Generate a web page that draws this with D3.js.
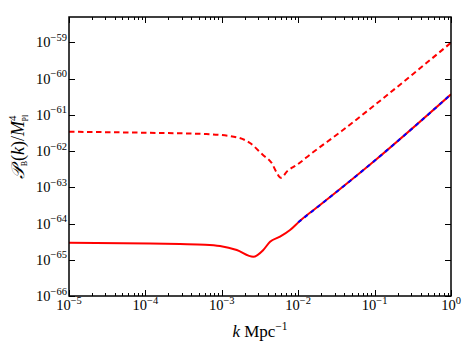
<!DOCTYPE html>
<html><head><meta charset="utf-8">
<script src="https://cdn.jsdelivr.net/npm/d3@7"></script>
<style>body{margin:0;background:#fff;} svg{display:block;}</style>
</head><body>
<svg id="c" width="463" height="348"></svg>
<script>
// k values (Mpc^-1) and power values for each curve
const dashedK = [1e-5, 1e-4, 6.03e-4, 1.28e-3, 2.34e-3, 3.46e-3, 4.50e-3, 5.24e-3, 5.90e-3, 7.29e-3, 9.55e-3, 1.50e-2, 3.71e-2, 1e-1, 1];
const dashedP = [3.42e-62, 3.2e-62, 2.95e-62, 2.6e-62, 1.67e-62, 7.78e-63, 4.68e-63, 2.52e-63, 1.84e-63, 2.86e-63, 4.12e-63, 8.67e-63, 3.57e-62, 1.85e-61, 9.77e-60];
const solidK = [1e-5, 1.15e-4, 2.84e-4, 6.03e-4, 9.46e-4, 1.57e-3, 2.58e-3, 3.49e-3, 4.28e-3, 5.78e-3, 7.82e-3, 1.06e-2, 1.93e-2, 1e-1, 1];
const solidP = [2.96e-65, 2.82e-65, 2.72e-65, 2.61e-65, 2.4e-65, 1.86e-65, 1.21e-65, 1.86e-65, 3.15e-65, 4.33e-65, 6.62e-65, 1.2e-64, 3.24e-64, 5.4e-63, 3.68e-61];
const blueK = [1e-2, 1e-1, 1];
const blueP = [1.08e-64, 5.4e-63, 3.68e-61];
const xTicks = [1e-5, 1e-4, 1e-3, 1e-2, 1e-1, 1];
const xTickExp = ["−5", "−4", "−3", "−2", "−1", "0"];
const yTicks = [1e-66, 1e-65, 1e-64, 1e-63, 1e-62, 1e-61, 1e-60, 1e-59];
const yTickExp = ["−66", "−65", "−64", "−63", "−62", "−61", "−60", "−59"];

const L = 69, R = 451, T = 17, B = 296;
const svg = d3.select("#c");
const x = d3.scaleLog().domain([1e-5, 1]).range([L, R]);
const y = d3.scaleLog().domain([1e-66, Math.pow(10, -58.3)]).range([B, T]);
const font = "'Liberation Serif','DejaVu Serif',serif";

svg.append("clipPath").attr("id", "pc").append("rect")
  .attr("x", L).attr("y", T).attr("width", R - L).attr("height", B - T);

const line = d3.line().x(d => x(d[0])).y(d => y(d[1])).curve(d3.curveMonotoneX);
const g = svg.append("g").attr("clip-path", "url(#pc)");
g.append("path").datum(solidK.map((k, i) => [k, solidP[i]])).attr("d", line)
  .attr("fill", "none").attr("stroke", "#ff0000").attr("stroke-width", 2);
g.append("path").datum(blueK.map((k, i) => [k, blueP[i]])).attr("d", line)
  .attr("fill", "none").attr("stroke", "#0000ff").attr("stroke-width", 2)
  .attr("stroke-dasharray", "4,4");
g.append("path").datum(dashedK.map((k, i) => [k, dashedP[i]])).attr("d", line)
  .attr("fill", "none").attr("stroke", "#ff0000").attr("stroke-width", 2)
  .attr("stroke-dasharray", "5.5,3.5");

// minor ticks x
const minors = [];
for (let e = -5; e < 0; e++) for (let m = 2; m <= 9; m++) minors.push(m * Math.pow(10, e));
const tk = svg.append("g").attr("stroke", "#000").attr("stroke-width", 1);
minors.forEach(v => {
  const px = Math.round(x(v)) + 0.5;
  tk.append("line").attr("x1", px).attr("x2", px).attr("y1", B).attr("y2", B - 3);
  tk.append("line").attr("x1", px).attr("x2", px).attr("y1", T).attr("y2", T + 3);
});
xTicks.forEach(v => {
  const px = Math.round(x(v)) + 0.5;
  tk.append("line").attr("x1", px).attr("x2", px).attr("y1", B).attr("y2", B - 6);
  tk.append("line").attr("x1", px).attr("x2", px).attr("y1", T).attr("y2", T + 6);
});
yTicks.forEach(v => {
  const py = Math.round(y(v)) + 0.5;
  tk.append("line").attr("x1", L).attr("x2", L + 6).attr("y1", py).attr("y2", py);
  tk.append("line").attr("x1", R).attr("x2", R - 6).attr("y1", py).attr("y2", py);
});

svg.append("rect").attr("x", L).attr("y", T).attr("width", R - L).attr("height", B - T)
  .attr("fill", "none").attr("stroke", "#000").attr("stroke-width", 1.5);

// x tick labels
xTicks.forEach((v, i) => {
  const t = svg.append("text").attr("x", x(v)).attr("y", 310).attr("text-anchor", "middle")
    .attr("font-family", font).attr("font-size", 14.5).attr("fill", "#000");
  t.append("tspan").text("10");
  t.append("tspan").attr("dy", -6.5).attr("font-size", 10.5).text(xTickExp[i]);
});
yTicks.forEach((v, i) => {
  const t = svg.append("text").attr("x", 67).attr("y", y(v) + 5).attr("text-anchor", "end")
    .attr("font-family", font).attr("font-size", 14.5).attr("fill", "#000");
  t.append("tspan").text("10");
  t.append("tspan").attr("dy", -6.5).attr("font-size", 10.5).text(yTickExp[i]);
});

// axis labels
const xl = svg.append("text").attr("x", 260).attr("y", 337).attr("text-anchor", "middle")
  .attr("font-family", font).attr("font-size", 17).attr("fill", "#000");
xl.append("tspan").attr("font-style", "italic").text("k");
xl.append("tspan").text(" Mpc");
xl.append("tspan").attr("dy", -7).attr("font-size", 11.5).text("−1");

const yl = svg.append("text").attr("transform", "translate(24,147) rotate(-90)")
  .attr("text-anchor", "middle").attr("font-family", font).attr("font-size", 18).attr("fill", "#000");
yl.append("tspan").attr("font-style", "italic").text("𝒫");
yl.append("tspan").attr("dy", 3).attr("font-size", 8).text("B");
yl.append("tspan").attr("dy", -3).text("(");
yl.append("tspan").attr("font-style", "italic").text("k");
yl.append("tspan").text(")/");
yl.append("tspan").attr("font-style", "italic").text("M");
yl.append("tspan").attr("dy", -8).attr("font-size", 11).text("4");
yl.append("tspan").attr("dx", -6).attr("dy", 12).attr("font-size", 8).text("Pl");
</script>
</body></html>
